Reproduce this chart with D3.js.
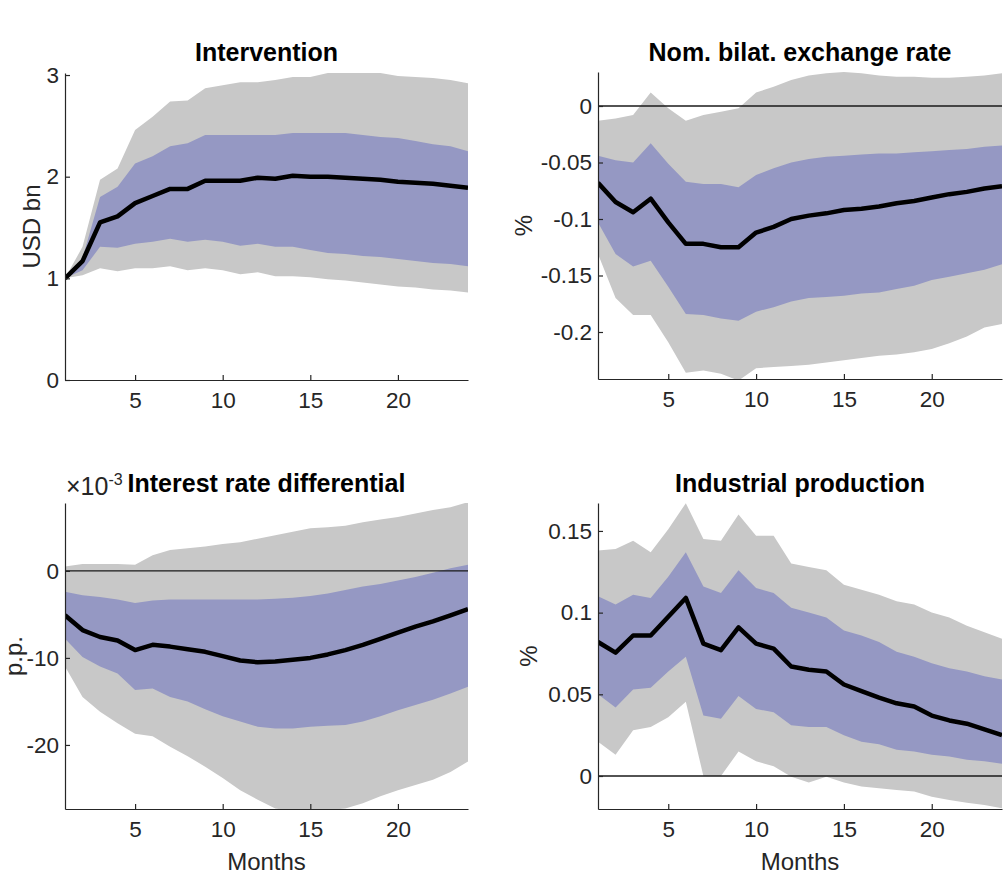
<!DOCTYPE html>
<html lang="en">
<head>
<meta charset="UTF-8">
<title>Impulse responses to an intervention</title>
<script src="https://d3js.org/d3.v7.min.js"></script>
<style>
  body { margin: 0; background: #fff; font-family: "Liberation Sans", Arial, sans-serif; }
  .tick text { font-size: 22.5px; fill: #262626; font-family: "Liberation Sans", Arial, sans-serif; }
  .domain, .tick line { stroke: #262626; stroke-width: 1.2px; }
  .title { font-size: 25px; font-weight: bold; fill: #000; text-anchor: middle; }
  .label { font-size: 24px; fill: #262626; text-anchor: middle; }
</style>
</head>
<body>
<svg width="1007" height="876"></svg>
<script>
// horizon in months
const months = [1, 2, 3, 4, 5, 6, 7, 8, 9, 10, 11, 12, 13, 14, 15, 16, 17, 18, 19, 20, 21, 22, 23, 24];
const xTicks = [5, 10, 15, 20];

// Intervention (USD bn)
const intMed    = [1.0, 1.17, 1.55, 1.61, 1.74, 1.81, 1.88, 1.88, 1.96, 1.96, 1.96, 1.99, 1.98, 2.01, 2.0, 2.0, 1.99, 1.98, 1.97, 1.95, 1.94, 1.93, 1.91, 1.89];
const intBlueHi = [1.0, 1.2, 1.8, 1.9, 2.13, 2.2, 2.3, 2.33, 2.41, 2.41, 2.41, 2.41, 2.41, 2.43, 2.43, 2.43, 2.43, 2.41, 2.39, 2.38, 2.35, 2.32, 2.3, 2.25];
const intBlueLo = [1.0, 1.08, 1.31, 1.3, 1.34, 1.36, 1.39, 1.36, 1.38, 1.36, 1.32, 1.34, 1.31, 1.31, 1.28, 1.25, 1.24, 1.22, 1.21, 1.19, 1.17, 1.15, 1.14, 1.12];
const intGrayHi = [1.0, 1.31, 1.97, 2.08, 2.46, 2.59, 2.74, 2.75, 2.87, 2.9, 2.93, 2.93, 2.95, 2.98, 2.98, 3.02, 3.02, 3.03, 3.02, 2.99, 2.98, 2.97, 2.95, 2.92];
const intGrayLo = [1.0, 1.03, 1.1, 1.07, 1.1, 1.1, 1.12, 1.08, 1.1, 1.08, 1.04, 1.06, 1.02, 1.02, 1.01, 0.99, 0.98, 0.96, 0.94, 0.92, 0.91, 0.89, 0.88, 0.86];
const intTicks  = [0, 1, 2, 3];

// Nominal bilateral exchange rate (%)
const fxMed    = [-0.068, -0.085, -0.094, -0.082, -0.103, -0.122, -0.122, -0.125, -0.125, -0.112, -0.107, -0.1, -0.097, -0.095, -0.092, -0.091, -0.089, -0.086, -0.084, -0.081, -0.078, -0.076, -0.073, -0.071];
const fxBlueHi = [-0.044, -0.048, -0.05, -0.033, -0.051, -0.067, -0.069, -0.069, -0.072, -0.061, -0.055, -0.05, -0.047, -0.045, -0.044, -0.043, -0.042, -0.042, -0.041, -0.04, -0.039, -0.038, -0.036, -0.035];
const fxBlueLo = [-0.103, -0.131, -0.142, -0.137, -0.16, -0.184, -0.185, -0.188, -0.19, -0.182, -0.178, -0.173, -0.17, -0.169, -0.168, -0.166, -0.165, -0.162, -0.159, -0.154, -0.151, -0.148, -0.145, -0.14];
const fxGrayHi = [-0.013, -0.011, -0.008, 0.012, -0.002, -0.013, -0.008, -0.005, -0.002, 0.012, 0.017, 0.023, 0.027, 0.029, 0.03, 0.029, 0.027, 0.026, 0.026, 0.025, 0.025, 0.026, 0.027, 0.029];
const fxGrayLo = [-0.131, -0.17, -0.185, -0.185, -0.209, -0.236, -0.234, -0.237, -0.243, -0.232, -0.231, -0.23, -0.229, -0.227, -0.225, -0.223, -0.221, -0.22, -0.218, -0.215, -0.21, -0.204, -0.196, -0.193];
const fxTicks  = [-0.2, -0.15, -0.1, -0.05, 0];

// Interest rate differential (p.p., x 10^-3)
const irMed    = [-5.1, -6.8, -7.6, -8.0, -9.1, -8.5, -8.7, -9.0, -9.3, -9.8, -10.3, -10.5, -10.4, -10.2, -10.0, -9.6, -9.1, -8.5, -7.8, -7.1, -6.4, -5.8, -5.1, -4.4];
const irBlueHi = [-2.4, -2.8, -3.0, -3.3, -3.7, -3.4, -3.3, -3.3, -3.3, -3.3, -3.3, -3.3, -3.2, -3.1, -2.9, -2.6, -2.2, -1.8, -1.5, -1.1, -0.7, -0.2, 0.3, 0.7];
const irBlueLo = [-7.8, -9.9, -11.0, -11.8, -13.7, -13.5, -14.5, -15.0, -15.9, -16.7, -17.3, -17.9, -18.1, -18.1, -17.9, -17.8, -17.7, -17.3, -16.7, -16.0, -15.4, -14.8, -14.1, -13.3];
const irGrayHi = [0.5, 0.8, 0.8, 0.8, 0.7, 1.8, 2.4, 2.6, 2.8, 3.1, 3.3, 3.7, 4.1, 4.5, 4.9, 5.0, 5.2, 5.6, 5.9, 6.2, 6.6, 7.0, 7.3, 7.9];
const irGrayLo = [-11.0, -14.5, -16.2, -17.5, -18.7, -19.0, -20.2, -21.3, -22.5, -23.8, -25.2, -26.3, -27.3, -27.6, -27.6, -27.5, -27.3, -26.7, -25.9, -25.2, -24.6, -24.0, -23.1, -21.9];
const irTicks  = [-20, -10, 0];

// Industrial production (%)
const ipMed    = [0.082, 0.0755, 0.086, 0.086, 0.0975, 0.109, 0.081, 0.077, 0.091, 0.081, 0.078, 0.067, 0.065, 0.064, 0.056, 0.052, 0.048, 0.0445, 0.0425, 0.037, 0.034, 0.032, 0.0285, 0.025];
const ipBlueHi = [0.110, 0.105, 0.111, 0.109, 0.122, 0.137, 0.116, 0.112, 0.126, 0.115, 0.112, 0.103, 0.1, 0.097, 0.089, 0.086, 0.082, 0.076, 0.073, 0.069, 0.066, 0.064, 0.061, 0.059];
const ipBlueLo = [0.050, 0.042, 0.053, 0.054, 0.064, 0.073, 0.037, 0.035, 0.049, 0.041, 0.039, 0.031, 0.030, 0.030, 0.025, 0.021, 0.0195, 0.016, 0.015, 0.013, 0.012, 0.010, 0.009, 0.0075];
const ipGrayHi = [0.138, 0.139, 0.144, 0.137, 0.151, 0.167, 0.145, 0.144, 0.160, 0.147, 0.147, 0.130, 0.128, 0.126, 0.117, 0.114, 0.111, 0.107, 0.105, 0.100, 0.097, 0.092, 0.088, 0.084];
const ipGrayLo = [0.021, 0.013, 0.028, 0.030, 0.036, 0.0455, 0.0, 0.0, 0.015, 0.009, 0.006, -0.0004, -0.004, -0.0004, -0.004, -0.0065, -0.0075, -0.0085, -0.0095, -0.0127, -0.0147, -0.0163, -0.0178, -0.0198];
const ipTicks  = [0, 0.05, 0.1, 0.15];

const grayBand = "#c8c8c8";
const blueBand = "#9598c3";

const panels = [
  { title: "Intervention", ylabel: "USD bn", ylabelX: 40, xlabel: false, zero: false,
    med: intMed, bHi: intBlueHi, bLo: intBlueLo, gHi: intGrayHi, gLo: intGrayLo, ticks: intTicks,
    domain: [0, 3.02], left: 65, right: 468, top: 73, bottom: 380, titleY: 61 },
  { title: "Nom. bilat. exchange rate", ylabel: "%", ylabelX: 532, xlabel: false, zero: true,
    med: fxMed, bHi: fxBlueHi, bLo: fxBlueLo, gHi: fxGrayHi, gLo: fxGrayLo, ticks: fxTicks,
    domain: [-0.2416, 0.0301], left: 598, right: 1002, top: 72, bottom: 379, titleY: 61 },
  { title: "Interest rate differential", ylabel: "p.p.", ylabelX: 22, xlabel: true, zero: true, exponent: true,
    med: irMed, bHi: irBlueHi, bLo: irBlueLo, gHi: irGrayHi, gLo: irGrayLo, ticks: irTicks,
    domain: [-27.36, 7.8], left: 65, right: 468, top: 503, bottom: 809, titleY: 492 },
  { title: "Industrial production", ylabel: "%", ylabelX: 537, xlabel: true, zero: true,
    med: ipMed, bHi: ipBlueHi, bLo: ipBlueLo, gHi: ipGrayHi, gLo: ipGrayLo, ticks: ipTicks,
    domain: [-0.0202, 0.1671], left: 598, right: 1002, top: 503, bottom: 809, titleY: 492 }
];

const svg = d3.select("svg");
const fmt = d => String(+d.toFixed(3));

panels.forEach((p, i) => {
  const x = d3.scaleLinear().domain([1, 24]).range([p.left, p.right]);
  const y = d3.scaleLinear().domain(p.domain).range([p.bottom, p.top]);

  svg.append("clipPath").attr("id", "clip" + i)
    .append("rect")
    .attr("x", p.left).attr("y", p.top)
    .attr("width", p.right - p.left).attr("height", p.bottom - p.top);

  const g = svg.append("g");
  const plot = g.append("g").attr("clip-path", `url(#clip${i})`);

  const band = (lo, hi) => d3.area()
    .x((d, j) => x(months[j]))
    .y0((d, j) => y(lo[j]))
    .y1((d, j) => y(hi[j]))(months);

  plot.append("path").attr("d", band(p.gLo, p.gHi)).attr("fill", grayBand);
  plot.append("path").attr("d", band(p.bLo, p.bHi)).attr("fill", blueBand);

  if (p.zero) {
    plot.append("line")
      .attr("x1", x(1)).attr("x2", x(24))
      .attr("y1", y(0)).attr("y2", y(0))
      .attr("stroke", "#1a1a1a").attr("stroke-width", 1.3);
  }

  plot.append("path")
    .attr("d", d3.line().x((d, j) => x(months[j])).y((d, j) => y(p.med[j]))(months))
    .attr("fill", "none")
    .attr("stroke", "#000")
    .attr("stroke-width", 4.5)
    .attr("stroke-linejoin", "round");

  g.append("g")
    .attr("transform", `translate(0,${p.bottom})`)
    .call(d3.axisBottom(x).tickValues(xTicks).tickSize(-5).tickSizeOuter(0).tickPadding(12).tickFormat(d3.format("d")));

  g.append("g")
    .attr("transform", `translate(${p.left},0)`)
    .call(d3.axisLeft(y).tickValues(p.ticks).tickSize(-5).tickSizeOuter(0).tickPadding(6).tickFormat(fmt));

  g.append("text").attr("class", "title")
    .attr("x", (p.left + p.right) / 2).attr("y", p.titleY)
    .text(p.title);

  g.append("text").attr("class", "label")
    .attr("transform", `translate(${p.ylabelX},${(p.top + p.bottom) / 2}) rotate(-90)`)
    .text(p.ylabel);

  if (p.xlabel) {
    g.append("text").attr("class", "label")
      .attr("x", (p.left + p.right) / 2).attr("y", 870)
      .text("Months");
  }

  if (p.exponent) {
    const t = g.append("text")
      .attr("x", p.left + 1).attr("y", 495)
      .attr("fill", "#262626")
      .style("font-size", "25px");
    t.append("tspan").text("\u00d710");
    t.append("tspan").attr("dy", -10).style("font-size", "16px").text("-3");
  }
});
</script>
</body>
</html>
